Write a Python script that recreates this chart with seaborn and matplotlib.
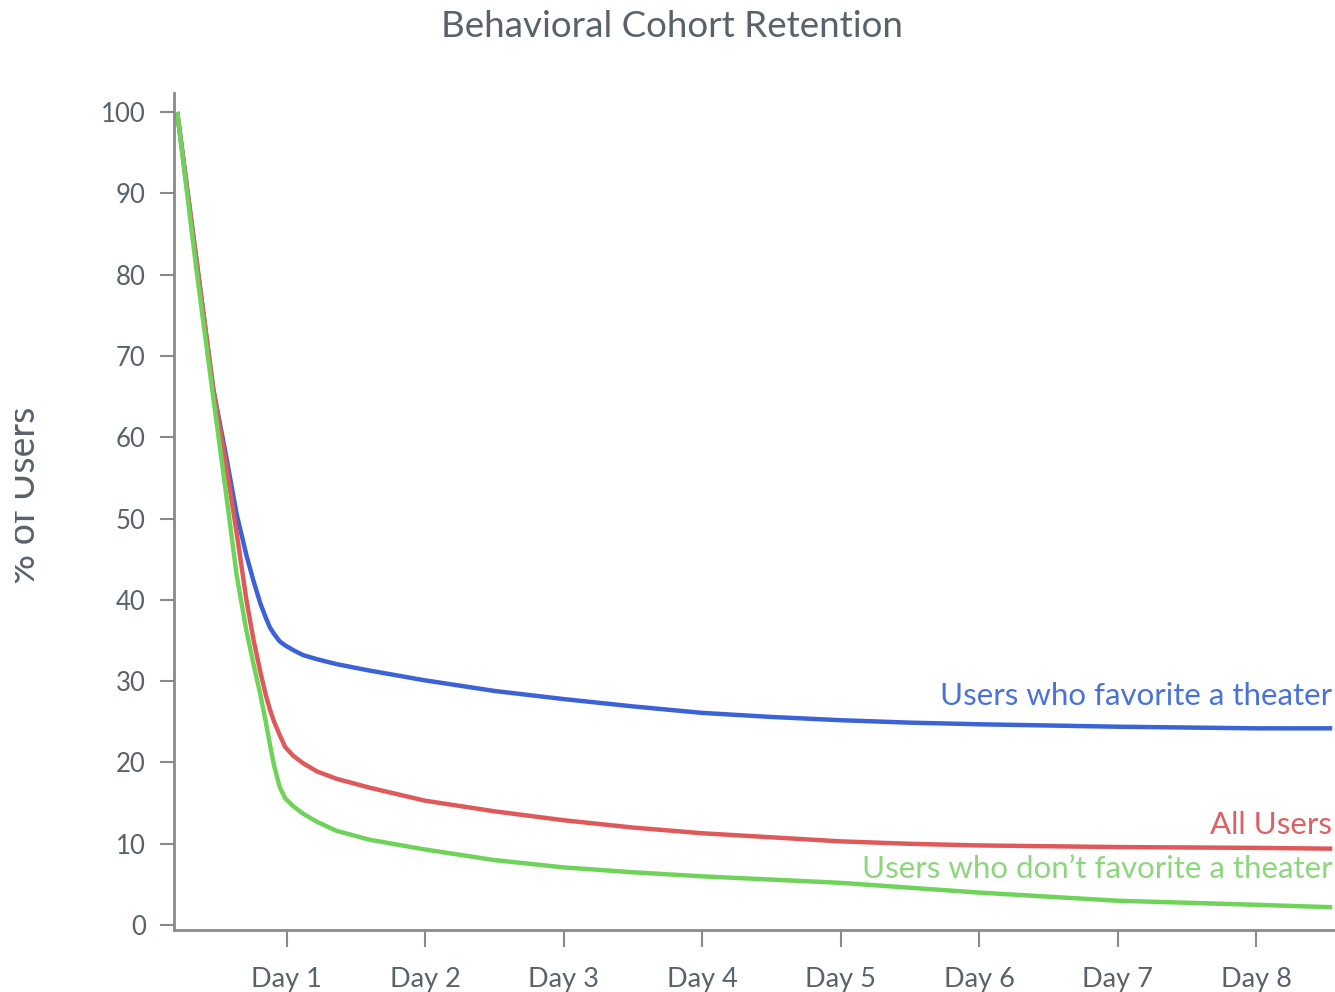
import numpy as np
import pandas as pd
import matplotlib
matplotlib.use("Agg")
import matplotlib.pyplot as plt
from matplotlib.transforms import Bbox, TransformedBbox
import seaborn as sns

# days since signup
days = [0.21, 0.35, 0.47, 0.56, 0.64, 0.71, 0.76, 0.81, 0.85, 0.88, 0.91,
        0.95, 0.99, 1.05, 1.12, 1.22, 1.36, 1.6, 2.0, 2.5, 3.0, 3.5, 4.0,
        4.5, 5.0, 5.5, 6.0, 7.0, 8.0, 8.55]

favorite = [100, 81.7, 66, 58, 50.5, 45.5, 42.4, 39.6, 37.8, 36.6, 35.8,
            34.9, 34.4, 33.8, 33.2, 32.7, 32.1, 31.3, 30.1, 28.8, 27.8, 26.9, 26.1,
            25.6, 25.2, 24.9, 24.7, 24.4, 24.2, 24.2]
all_users = [100, 81.7, 66, 57, 48.2, 40.0, 35.2, 31.2, 28.3, 26.5, 25.0,
             23.4, 21.9, 20.8, 19.9, 18.9, 18.0, 16.9, 15.3, 14.0, 12.9, 12.0, 11.3,
             10.8, 10.3, 10.0, 9.8, 9.6, 9.5, 9.4]
no_favorite = [100, 80.5, 65, 53.5, 43.0, 36.2, 32.2, 28.4, 25.0, 22.2, 19.6,
               17.0, 15.6, 14.6, 13.7, 12.7, 11.6, 10.5, 9.3, 8.0, 7.1, 6.5, 6.0,
               5.6, 5.2, 4.6, 4.0, 3.0, 2.5, 2.2]

series_names = ["Users who favorite a theater", "All Users",
                "Users who don\u2019t favorite a theater"]
series_colors = ["#3b62d6", "#e0595a", "#6fd35a"]
label_colors = ["#4a72d8", "#dd6064", "#8ed57e"]
label_y = [26.5, 10.65, 5.15]

day_ticks = [1, 2, 3, 4, 5, 6, 7, 8]
day_labels = [f"Day {d}" for d in day_ticks]
pct_ticks = list(range(0, 101, 10))

sns.set_style("white")
plt.rcParams["font.family"] = ["Lato", "DejaVu Sans"]

text_grey = "#5a6269"
axis_grey = "#8a8a8a"

fig = plt.figure(figsize=(13.35, 9.92), dpi=100)
ax = fig.add_axes([0.130, 0.0625, 0.870, 0.8435])

for name, vals, col in zip(series_names, [favorite, all_users, no_favorite], series_colors):
    df = pd.DataFrame({"day": days, "pct": vals})
    sns.lineplot(data=df, x="day", y="pct", color=col, linewidth=3.2, ax=ax,
                 solid_capstyle="butt", solid_joinstyle="round", clip_on=False)

for name, col, y in zip(series_names, label_colors, label_y):
    ax.text(8.55, y, name, color=col, fontsize=22.5, ha="right", va="bottom")

ax.set_xlim(0.184, 8.57)
ax.set_ylim(-0.6, 102.3)
ax.set_xticks(day_ticks)
ax.set_xticklabels(day_labels)
ax.set_yticks(pct_ticks)
ax.set_xlabel("")
ax.set_ylabel("")

for side in ["top", "right"]:
    ax.spines[side].set_visible(False)
for side in ["left", "bottom"]:
    ax.spines[side].set_color(axis_grey)
    ax.spines[side].set_linewidth(2)

ax.tick_params(axis="y", which="major", direction="out", length=10, width=1.5,
               color=axis_grey, labelcolor=text_grey, labelsize=18.5, pad=10, left=True)
ax.tick_params(axis="x", which="major", direction="out", length=12, width=1.5,
               color=axis_grey, labelcolor=text_grey, labelsize=19.5, pad=15, bottom=True)

fig.text(0.503, 0.973, "Behavioral Cohort Retention", ha="center", va="center",
         fontsize=26.5, color=text_grey)

# the y label is cut off on its left side in the original
ylab = fig.text(0.0318, 0.501, "% of Users", rotation=90, ha="right", va="center",
                fontsize=27, color=text_grey)
ylab.set_clip_box(TransformedBbox(Bbox([[0.011, 0.0], [1.0, 1.0]]), fig.transFigure))
ylab.set_clip_on(True)

fig.savefig("out.png", dpi=100)
plt.close(fig)
